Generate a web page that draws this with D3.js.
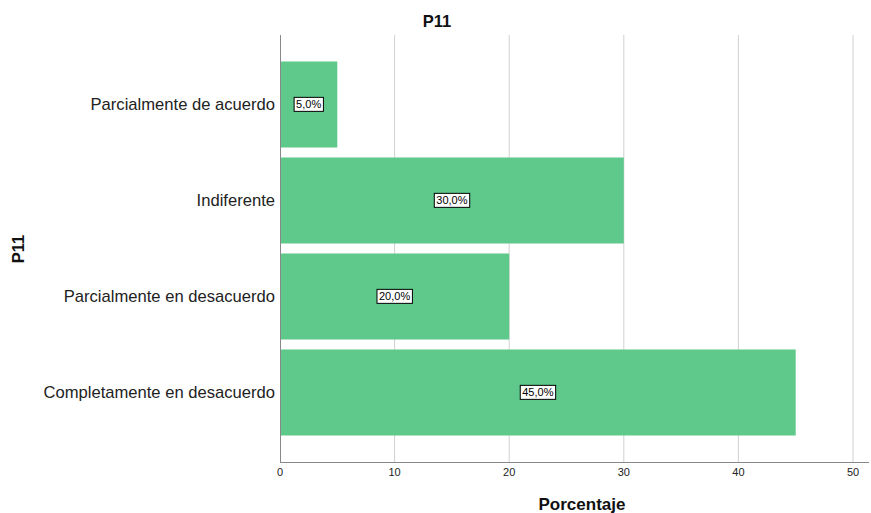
<!DOCTYPE html>
<html><head><meta charset="utf-8">
<script src="https://cdn.jsdelivr.net/npm/d3@7"></script>
<style>body{margin:0;background:#fff}text{font-family:Arial,"Liberation Sans",sans-serif}</style>
</head><body><svg id="c" width="871" height="513"></svg>
<script>
const categories = ["Parcialmente de acuerdo","Indiferente","Parcialmente en desacuerdo","Completamente en desacuerdo"];
const values = [5.0, 30.0, 20.0, 45.0];
const labels = ["5,0%","30,0%","20,0%","45,0%"];
const xTicks = [0,10,20,30,40,50];

const svg = d3.select("#c");
const L=280, R=869, T=35, B=462;
const x = d3.scaleLinear().domain([0,50]).range([L,853]);
const y = d3.scaleBand().domain(categories).range([T,B]).paddingInner(0.104).paddingOuter(0.276);

svg.append("g").selectAll("line").data(xTicks.filter(d=>d>0)).join("line")
 .attr("x1",d=>x(d)).attr("x2",d=>x(d)).attr("y1",T).attr("y2",B)
 .attr("stroke","#d0d0d0").attr("stroke-width",1);

svg.append("g").selectAll("rect").data(categories).join("rect")
 .attr("x",x(0)).attr("y",d=>y(d)).attr("width",(d,i)=>x(values[i])-x(0)).attr("height",y.bandwidth())
 .attr("fill","#5ec98b");

svg.append("line").attr("x1",L+0.5).attr("x2",L+0.5).attr("y1",T).attr("y2",B).attr("stroke","#888");
svg.append("line").attr("x1",L).attr("x2",R).attr("y1",B+0.5).attr("y2",B+0.5).attr("stroke","#888");

svg.append("g").selectAll("text").data(xTicks).join("text")
 .attr("x",d=>x(d)).attr("y",476).attr("text-anchor","middle")
 .attr("font-size",11).attr("fill","#222").text(d=>d);

svg.append("g").selectAll("text").data(categories).join("text")
 .attr("x",275).attr("y",d=>y(d)+y.bandwidth()/2).attr("dy","0.35em").attr("text-anchor","end")
 .attr("font-size",16.6).attr("fill","#222").text(d=>d);

const lg = svg.append("g").selectAll("g").data(categories).join("g")
 .attr("transform",(d,i)=>`translate(${(x(0)+x(values[i]))/2},${y(d)+y.bandwidth()/2})`);
lg.each(function(d,i){
  const g=d3.select(this);
  const t=g.append("text").attr("text-anchor","middle").attr("dy","0.35em").attr("font-size",11).attr("fill","#000").text(labels[i]);
  const bb=t.node().getBBox();
  g.insert("rect","text").attr("x",bb.x-2).attr("y",bb.y-1).attr("width",bb.width+4).attr("height",bb.height+2)
   .attr("fill","#fff").attr("stroke","#000").attr("stroke-width",1);
});

svg.append("text").attr("x",437).attr("y",27).attr("text-anchor","middle").attr("font-size",16.5).attr("font-weight","bold").attr("fill","#111").text("P11");
svg.append("text").attr("x",582).attr("y",510).attr("text-anchor","middle").attr("font-size",17).attr("font-weight","bold").attr("fill","#111").text("Porcentaje");
svg.append("text").attr("transform","translate(24,249) rotate(-90)").attr("text-anchor","middle").attr("font-size",16.5).attr("font-weight","bold").attr("fill","#111").text("P11");
</script></body></html>
